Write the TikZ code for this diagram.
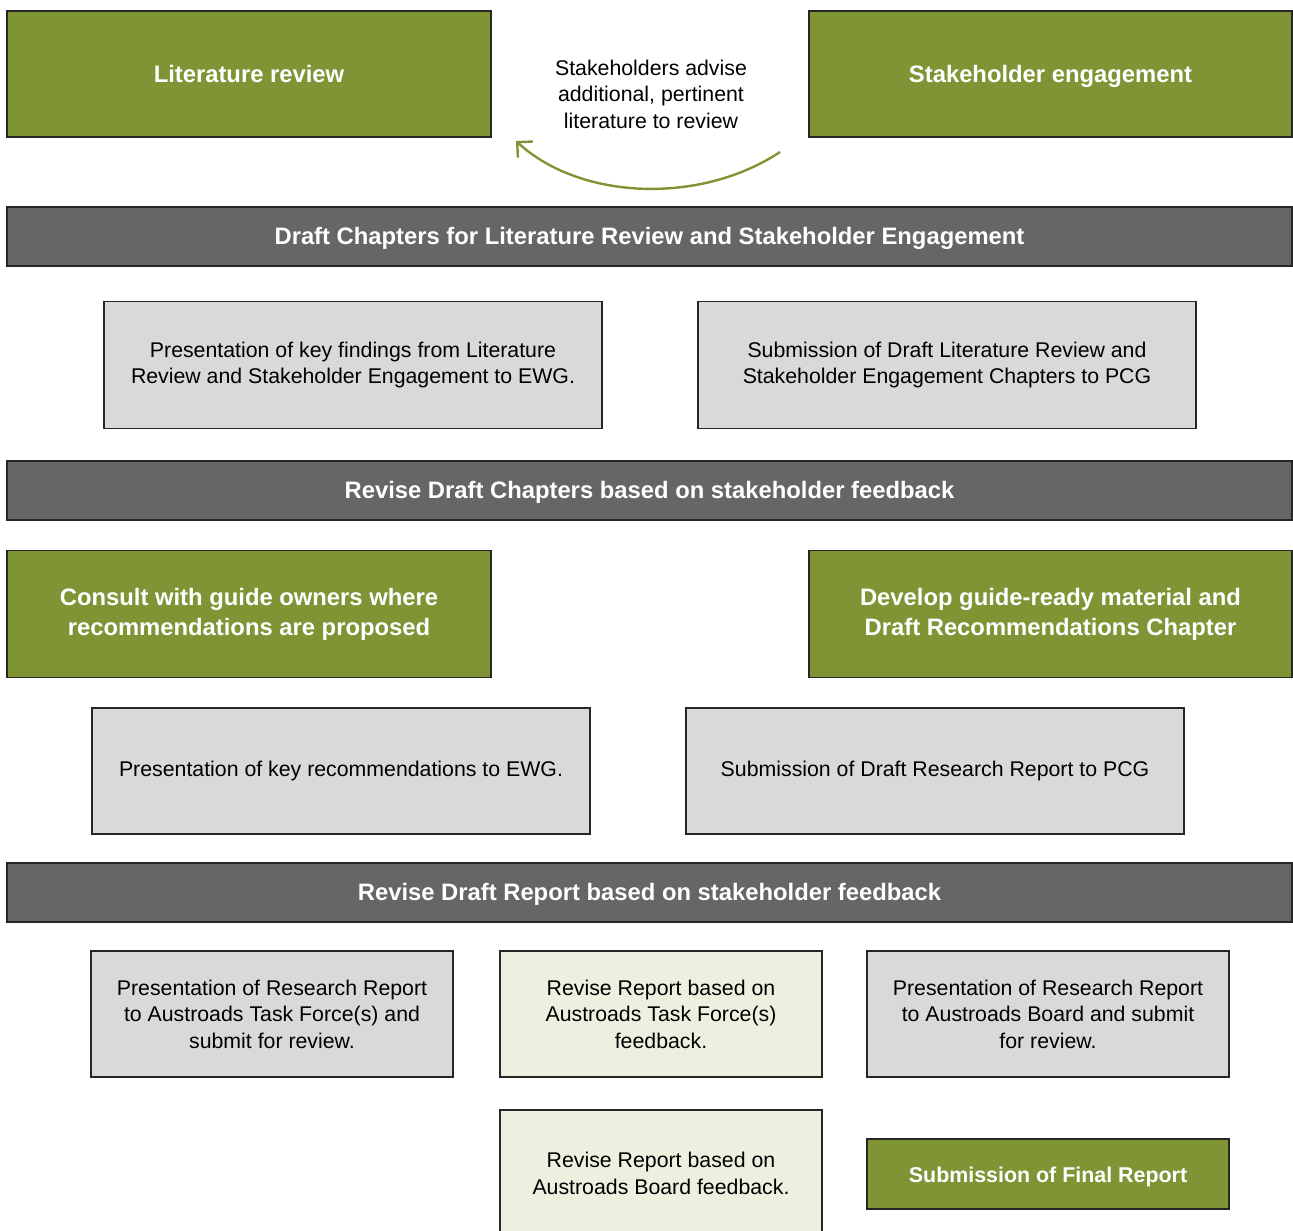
\documentclass[tikz,border=0pt]{standalone}
\usepackage{fontspec}
\setmainfont{Liberation Sans}
\usetikzlibrary{arrows.meta}
\definecolor{olive}{HTML}{7F9535}
\definecolor{bargray}{HTML}{666666}
\definecolor{boxgray}{HTML}{D9D9D9}
\definecolor{palegreen}{HTML}{EBF1DE}
\tikzset{
  base/.style={draw=black!85, line width=1.2pt, align=center, inner sep=0pt},
  greenbox/.style={base, fill=olive, text=white, font=\fontsize{23.8}{30}\selectfont\bfseries},
  barbox/.style={base, fill=bargray, text=white, font=\fontsize{23.8}{30}\selectfont\bfseries},
  oneline/.style={text height=20pt, text depth=4pt},
  graybox/.style={base, fill=boxgray, text=black, font=\fontsize{21.3}{26.5}\selectfont},
  lightbox/.style={base, fill=palegreen, text=black, font=\fontsize{21.3}{26.5}\selectfont},
  note/.style={align=center, font=\fontsize{21.3}{26.5}\selectfont, inner sep=0pt},
  loop/.style={draw=olive, line width=2.4pt, -{Straight Barb[length=11pt, width=22pt, line width=2.4pt]}}
}
\begin{document}
\begin{tikzpicture}[x=1pt, y=-1pt]
\useasboundingbox (0,0) rectangle (1293,1231);
\begin{scope}
\clip (0,0) rectangle (1293,1231);
% top row
\node[greenbox, oneline, minimum width=484, minimum height=126] (lit) at (249,74) {Literature review};
\node[greenbox, oneline, minimum width=483, minimum height=126] (stake) at (1050.5,74) {Stakeholder engagement};
\node[note] (adv) at (651,94) {Stakeholders advise\\additional, pertinent\\literature to review};
\coordinate (arcstart) at (780,152);
\coordinate (arcend) at (516,141);
\draw[loop] (arcstart) .. controls (700,205) and (580,200) .. (arcend);
% first stage
\node[barbox, oneline, minimum width=1285, minimum height=59] (bar1) at (649.5,236.5) {Draft Chapters for Literature Review and Stakeholder Engagement};
\node[graybox, minimum width=498, minimum height=127] (pres1) at (353,365) {Presentation of key findings from Literature\\Review and Stakeholder Engagement to EWG.};
\node[graybox, minimum width=498, minimum height=127] (sub1) at (947,365) {Submission of Draft Literature Review and\\Stakeholder Engagement Chapters to PCG};
% second stage
\node[barbox, oneline, minimum width=1285, minimum height=59] (bar2) at (649.5,490.5) {Revise Draft Chapters based on stakeholder feedback};
\node[greenbox, minimum width=484, minimum height=127] (consult) at (249,614) {Consult with guide owners where\\recommendations are proposed};
\node[greenbox, minimum width=483, minimum height=127] (develop) at (1050.5,614) {Develop guide-ready material and\\Draft Recommendations Chapter};
\node[graybox, minimum width=498, minimum height=126] (pres2) at (341,771) {Presentation of key recommendations to EWG.};
\node[graybox, minimum width=498, minimum height=126] (sub2) at (935,771) {Submission of Draft Research Report to PCG};
% third stage
\node[barbox, oneline, minimum width=1285, minimum height=59] (bar3) at (649.5,892.5) {Revise Draft Report based on stakeholder feedback};
\node[graybox, minimum width=362, minimum height=126] (pres3) at (272,1014) {Presentation of Research Report\\to Austroads Task Force(s) and\\submit for review.};
\node[lightbox, minimum width=322, minimum height=126] (rev1) at (661,1014) {Revise Report based on\\Austroads Task Force(s)\\feedback.};
\node[graybox, minimum width=362, minimum height=126] (pres4) at (1048,1014) {Presentation of Research Report\\to Austroads Board and submit\\for review.};
\node[lightbox, minimum width=322, minimum height=127] (rev2) at (661,1173.5) {Revise Report based on\\Austroads Board feedback.};
\node[greenbox, oneline, minimum width=362, minimum height=70, font=\fontsize{21.4}{27}\selectfont\bfseries] (final) at (1048,1174) {Submission of Final Report};
\end{scope}
\end{tikzpicture}
\end{document}
